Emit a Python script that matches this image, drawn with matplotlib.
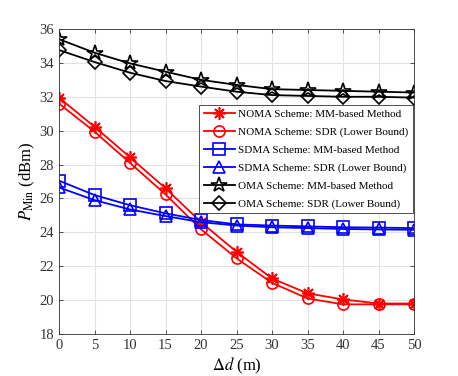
import matplotlib
matplotlib.use("Agg")
import matplotlib.pyplot as plt

plt.rcParams['font.family'] = ['Liberation Serif', 'DejaVu Serif']
plt.rcParams['mathtext.fontset'] = 'stix'

dd = [0, 5, 10, 15, 20, 25, 30, 35, 40, 45, 50]
noma_mm = [31.95, 30.23, 28.43, 26.6, 24.6, 22.85, 21.28, 20.4, 20.04, 19.8, 19.8]
noma_sdr = [31.6, 29.94, 28.1, 26.24, 24.18, 22.47, 21.02, 20.1, 19.75, 19.75, 19.75]
sdma_mm = [27.05, 26.2, 25.6, 25.12, 24.73, 24.47, 24.4, 24.35, 24.3, 24.28, 24.25]
sdma_sdr = [26.65, 25.9, 25.35, 24.96, 24.6, 24.4, 24.3, 24.25, 24.2, 24.17, 24.15]
oma_mm = [35.4, 34.6, 33.97, 33.48, 33.0, 32.7, 32.45, 32.4, 32.35, 32.3, 32.25]
oma_sdr = [34.76, 34.05, 33.42, 32.93, 32.6, 32.3, 32.1, 32.05, 32.0, 32.0, 31.95]
labels = ["NOMA Scheme: MM-based Method", "NOMA Scheme: SDR (Lower Bound)",
          "SDMA Scheme: MM-based Method", "SDMA Scheme: SDR (Lower Bound)",
          "OMA Scheme: MM-based Method", "OMA Scheme: SDR (Lower Bound)"]
yticks = [18, 20, 22, 24, 26, 28, 30, 32, 34, 36]
xticks = [0, 5, 10, 15, 20, 25, 30, 35, 40, 45, 50]

fig = plt.figure(figsize=(4.58, 3.76), dpi=100)
ax = fig.add_axes([59/458, 1-334/376, (414-59)/458, (334-29)/376])

series = [
    (noma_mm, 'red', (8, 2, 0), 9),
    (noma_sdr, 'red', 'o', 8),
    (sdma_mm, 'blue', 's', 8),
    (sdma_sdr, 'blue', '^', 8.5),
    (oma_mm, 'black', '*', 11.5),
    (oma_sdr, 'black', 'D', 7),
]
for (vals, c, m, ms), lab in zip(series, labels):
    ax.plot(dd, vals, color=c, marker=m, markersize=ms, markerfacecolor='none',
            markeredgecolor=c, markeredgewidth=1.2, linewidth=1.3, label=lab)

ax.set_xlim(0, 50)
ax.set_ylim(18, 36)
ax.set_xticks(xticks)
ax.set_yticks(yticks)
ax.grid(True, color='#e3e3e3', linewidth=0.8)
ax.set_axisbelow(True)
ax.tick_params(direction='in', top=True, right=True, labelsize=10.5, colors='#333333',
               length=3, width=0.6)
for s in ax.spines.values():
    s.set_color('#333333')
    s.set_linewidth(0.6)
ax.set_xlabel(r'$\Delta d$ (m)', fontsize=12, labelpad=3)
ax.set_ylabel(r'$P_{\rm Min}$ (dBm)', fontsize=12, labelpad=2)

leg = ax.legend(loc='upper right', bbox_to_anchor=(0.997, 1 - (105-29)/305), fontsize=8.0,
                fancybox=False, edgecolor='#333333', framealpha=1, borderpad=0.4,
                labelspacing=0.72, handlelength=2.8, handletextpad=0.3, borderaxespad=0)
leg.get_frame().set_linewidth(0.6)

fig.savefig('out.png', dpi=100)
